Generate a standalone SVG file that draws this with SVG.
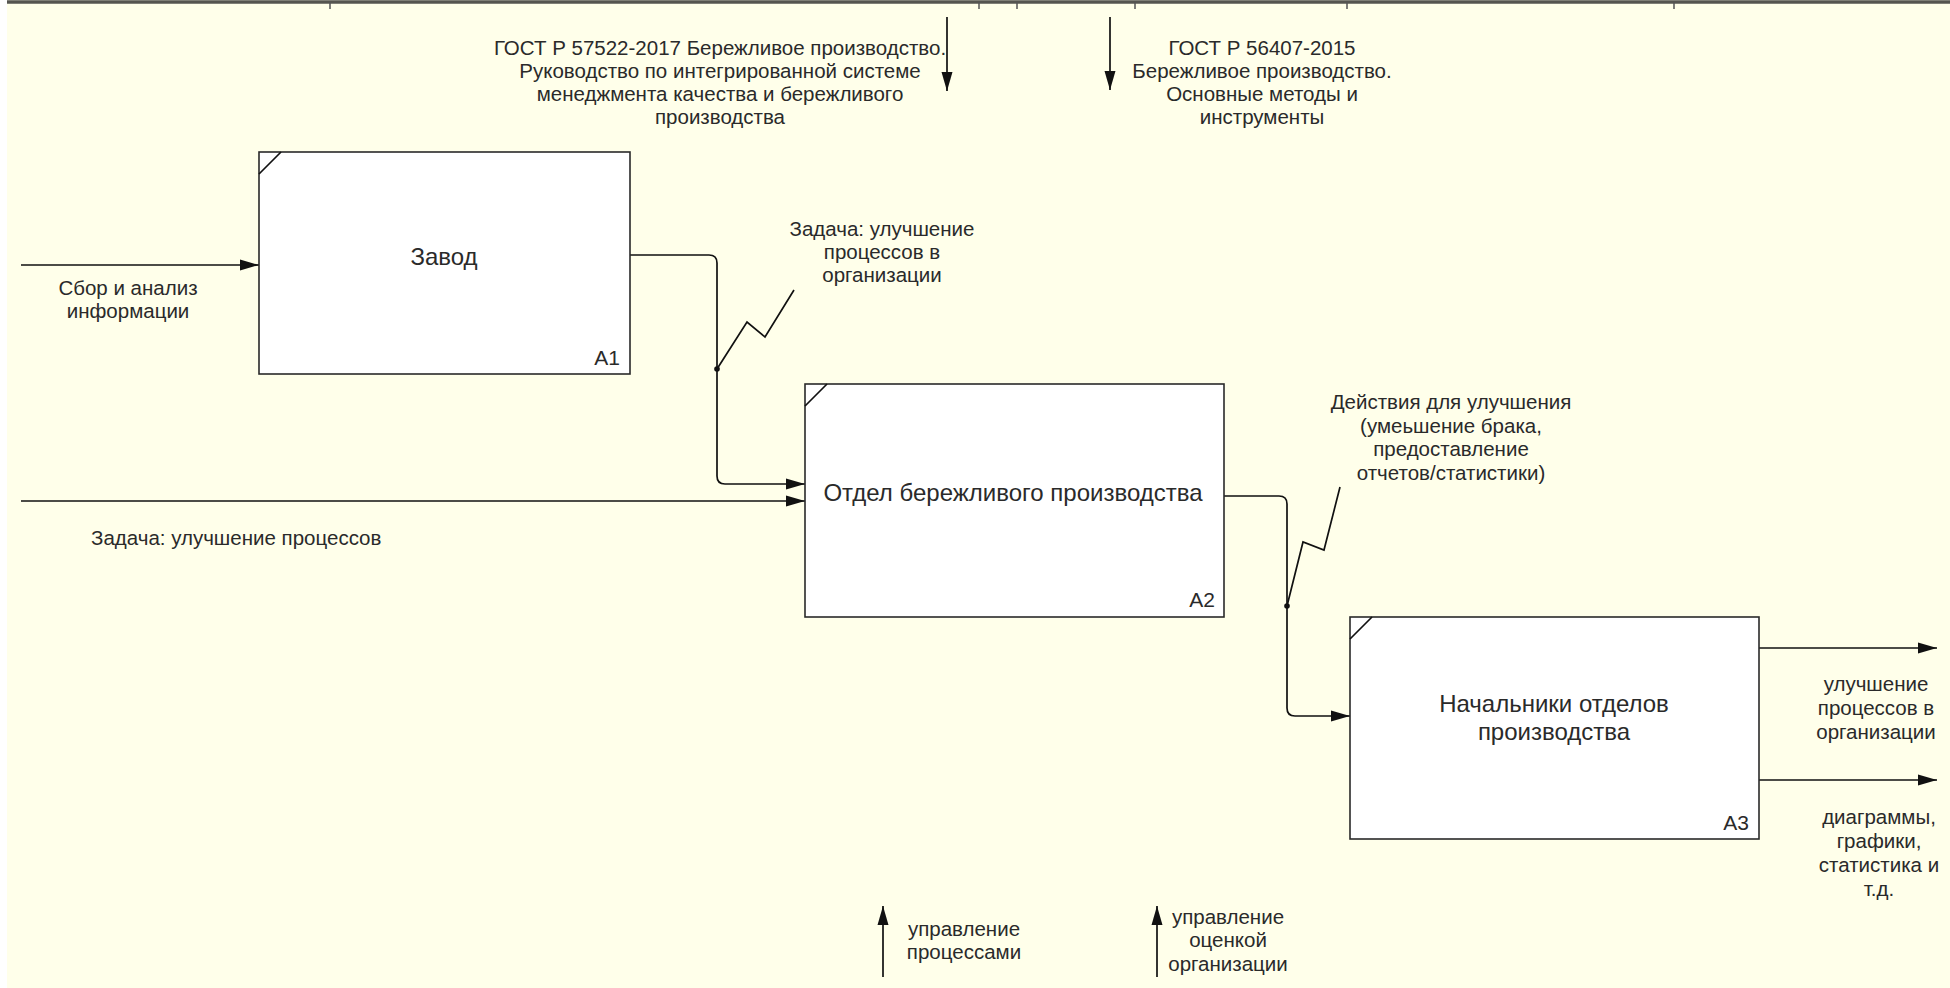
<svg xmlns="http://www.w3.org/2000/svg" width="1950" height="988" viewBox="0 0 1950 988">
<defs>
<style>
.box{fill:#ffffff;stroke:#2a2a2a;stroke-width:1.6}
.con{fill:none;stroke:#111;stroke-width:1.7}
.arr{marker-end:url(#ah)}
.lbl{font-family:"Liberation Sans",Arial,sans-serif;font-size:20.5px;fill:#2a2a2a;text-anchor:middle}
.lft{text-anchor:start}
.title{font-size:24px}
.num{font-family:"Liberation Sans",Arial,sans-serif;font-size:21px;fill:#2a2a2a;text-anchor:end}
.tick{stroke:#555;stroke-width:1.5}
</style>
<marker id="ah" markerUnits="userSpaceOnUse" markerWidth="19" markerHeight="12" refX="19" refY="6" orient="auto">
<path d="M0,0.5 L19,6 L0,11.5 z" fill="#111"/>
</marker>
</defs>
<rect x="0" y="0" width="1950" height="988" fill="#ffffea"/>
<rect x="0" y="0" width="7" height="988" fill="#ffffff"/>
<line x1="7" y1="2" x2="1950" y2="2" stroke="#555550" stroke-width="3.5"/>
<g id="ticks">
<line class="tick" x1="330" y1="2" x2="330" y2="9"/>
<line class="tick" x1="979" y1="2" x2="979" y2="9"/>
<line class="tick" x1="1017" y1="2" x2="1017" y2="9"/>
<line class="tick" x1="1135" y1="2" x2="1135" y2="9"/>
<line class="tick" x1="1347" y1="2" x2="1347" y2="9"/>
<line class="tick" x1="1674" y1="2" x2="1674" y2="9"/>
</g>

<g id="connectors">
<!-- top controls -->
<line class="con arr" x1="947" y1="17" x2="947" y2="91"/>
<line class="con arr" x1="1110" y1="17" x2="1110" y2="90"/>
<!-- input to A1 -->
<line class="con arr" x1="21" y1="265" x2="259" y2="265"/>
<!-- A1 -> A2 -->
<path class="con arr" d="M630,255 H709 Q717,255 717,263 V476 Q717,484 725,484 H805"/>
<circle cx="717" cy="369" r="2.8" fill="#111"/>
<polyline class="con" points="717,369 747,322 765,337 794,290"/>
<!-- input to A2 -->
<line class="con arr" x1="21" y1="501" x2="805" y2="501"/>
<!-- A2 -> A3 -->
<path class="con arr" d="M1224,496 H1279 Q1287,496 1287,504 V708 Q1287,716 1295,716 H1350"/>
<circle cx="1287" cy="606" r="2.8" fill="#111"/>
<polyline class="con" points="1287,606 1303,542 1324,550 1340,487"/>
<!-- outputs -->
<line class="con arr" x1="1759" y1="648" x2="1937" y2="648"/>
<line class="con arr" x1="1759" y1="780" x2="1937" y2="780"/>
<!-- bottom mechanisms -->
<line class="con arr" x1="883" y1="977" x2="883" y2="906"/>
<line class="con arr" x1="1157" y1="977" x2="1157" y2="906"/>
</g>

<g id="A1">
<rect class="box" x="259" y="152" width="371" height="222"/>
<line class="con" x1="259" y1="174" x2="281" y2="152"/>
<text class="lbl title" x="444" y="265">Завод</text>
<text class="num" x="620" y="365">А1</text>
</g>

<g id="A2">
<rect class="box" x="805" y="384" width="419" height="233"/>
<line class="con" x1="805" y1="406" x2="827" y2="384"/>
<text class="lbl title" x="1013" y="501">Отдел бережливого производства</text>
<text class="num" x="1215" y="607">А2</text>
</g>

<g id="A3">
<rect class="box" x="1350" y="617" width="409" height="222"/>
<line class="con" x1="1350" y1="639" x2="1372" y2="617"/>
<text class="lbl title" x="1554" y="712">Начальники отделов</text>
<text class="lbl title" x="1554" y="740">производства</text>
<text class="num" x="1749" y="830">А3</text>
</g>

<g id="labels">
<g id="lbl-gost1">
<text class="lbl" x="720" y="55">ГОСТ Р 57522-2017 Бережливое производство.</text>
<text class="lbl" x="720" y="78">Руководство по интегрированной системе</text>
<text class="lbl" x="720" y="101">менеджмента качества и бережливого</text>
<text class="lbl" x="720" y="124">производства</text>
</g>
<g id="lbl-gost2">
<text class="lbl" x="1262" y="55">ГОСТ Р 56407-2015</text>
<text class="lbl" x="1262" y="78">Бережливое производство.</text>
<text class="lbl" x="1262" y="101">Основные методы и</text>
<text class="lbl" x="1262" y="124">инструменты</text>
</g>
<g id="lbl-input1">
<text class="lbl" x="128" y="295">Сбор и анализ</text>
<text class="lbl" x="128" y="318">информации</text>
</g>
<g id="lbl-a1out">
<text class="lbl" x="882" y="236">Задача: улучшение</text>
<text class="lbl" x="882" y="259">процессов в</text>
<text class="lbl" x="882" y="282">организации</text>
</g>
<g id="lbl-input2">
<text class="lbl lft" x="91" y="545">Задача: улучшение процессов</text>
</g>
<g id="lbl-a2out">
<text class="lbl" x="1451" y="409">Действия для улучшения</text>
<text class="lbl" x="1451" y="432.5">(умеьшение брака,</text>
<text class="lbl" x="1451" y="456">предоставление</text>
<text class="lbl" x="1451" y="479.5">отчетов/статистики)</text>
</g>
<g id="lbl-out1">
<text class="lbl" x="1876" y="691">улучшение</text>
<text class="lbl" x="1876" y="715">процессов в</text>
<text class="lbl" x="1876" y="739">организации</text>
</g>
<g id="lbl-out2">
<text class="lbl" x="1879" y="824">диаграммы,</text>
<text class="lbl" x="1879" y="848">графики,</text>
<text class="lbl" x="1879" y="872">статистика и</text>
<text class="lbl" x="1879" y="896">т.д.</text>
</g>
<g id="lbl-mech1">
<text class="lbl" x="964" y="936">управление</text>
<text class="lbl" x="964" y="959">процессами</text>
</g>
<g id="lbl-mech2">
<text class="lbl" x="1228" y="924">управление</text>
<text class="lbl" x="1228" y="947">оценкой</text>
<text class="lbl" x="1228" y="971">организации</text>
</g>
</g>
</svg>
